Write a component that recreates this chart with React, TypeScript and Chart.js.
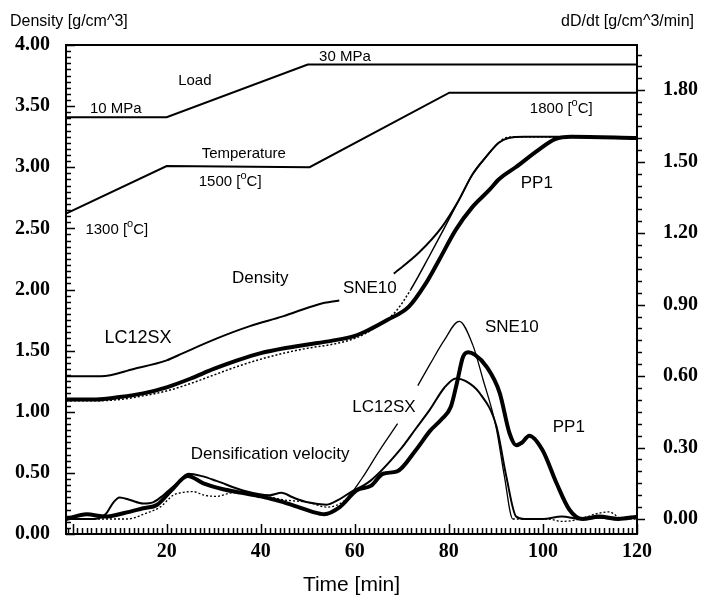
import React, { useEffect, useRef } from "react";
import { Chart, registerables } from "chart.js";
Chart.register(...registerables);

// ---------- axis settings ----------
const X_MIN = -1.4;
const X_MAX = 120;
const X_TICKS = [20, 40, 60, 80, 100, 120];
const LEFT_TICKS = [0, 0.5, 1, 1.5, 2, 2.5, 3, 3.5, 4];
const RIGHT_TICKS = [0, 0.3, 0.6, 0.9, 1.2, 1.5, 1.8];
const RIGHT_MIN = -0.063;
const RIGHT_MAX = 1.99;

// ---------- process conditions (left axis units) ----------
const LOAD_TIME = [-1.4, 20, 50, 120];
const LOAD = [3.41, 3.41, 3.84, 3.84];
const TEMP_TIME = [-1.4, 20, 50.4, 80.1, 120];
const TEMP = [2.62, 3.01, 3.0, 3.61, 3.61];

// ---------- density [g/cm^3] ----------
const DEN_LC_TIME = [-1.4, 6, 13, 20, 23.5, 30.7, 37.7, 44.7, 52.4, 56.7, 62, 68.3, 73.6, 78.5, 82.1, 85, 87.8, 90.6, 92.7, 96, 105, 120];
const DEN_LC = [1.29, 1.29, 1.35, 1.42, 1.48, 1.6, 1.7, 1.78, 1.88, 1.91, null, 2.13, 2.3, 2.51, 2.73, 2.94, 3.08, 3.2, 3.24, 3.25, 3.25, 3.24];

const DEN_SNE_TIME = [-1.4, 5, 10, 15, 20, 25, 30, 35, 40, 45, 50, 55, 60, 64, 68.7, 71.9, 75.8, 79, 82, 85, 87.8, 90.6, 92, 95, 100, 104];
const DEN_SNE = [1.09, 1.09, 1.1, 1.13, 1.17, 1.23, 1.3, 1.37, 1.43, 1.48, 1.52, 1.55, 1.6, 1.68, 1.82, 2.0, 2.27, 2.5, 2.72, 2.94, 3.08, 3.2, 3.24, 3.25, 3.25, 3.24];

const DEN_PP_TIME = [-1.4, 5, 10, 15, 20, 25, 30, 35, 40, 45, 50, 55, 60, 63, 66.9, 71.5, 75.1, 77.9, 81.5, 84.9, 88.5, 90.6, 94.2, 99, 102.6, 106, 120];
const DEN_PP = [1.1, 1.1, 1.12, 1.15, 1.2, 1.27, 1.35, 1.42, 1.48, 1.52, 1.55, 1.58, 1.62, 1.67, 1.75, 1.86, 2.05, 2.24, 2.49, 2.67, 2.81, 2.9, 3.0, 3.14, 3.23, 3.25, 3.24];

// ---------- densification velocity dD/dt [g/cm^3/min] (right axis) ----------
const VEL_LC_TIME = [-1.4, 4.4, 7, 8.7, 10, 12.2, 15, 17.1, 19.3, 22.2, 24.6, 27.5, 30.6, 36.2, 41.9, 44.4, 46.9, 50, 54, 56.5, 58.9, 63.3, 69.6, 73, 76, 79, 81.5, 83.5, 86.5, 90.1, 92.2, 94.3, 96, 100, 104, 108, 112, 116, 120];
const VEL_LC = [0.0, 0.0, 0.02, 0.07, 0.09, 0.08, 0.065, 0.07, 0.1, 0.15, 0.19, 0.18, 0.16, 0.12, 0.1, 0.11, 0.09, 0.07, 0.06, 0.08, 0.11, 0.16, 0.29, 0.38, 0.46, 0.55, 0.59, 0.58, 0.53, 0.39, 0.18, 0.01, 0.0, 0.0, 0.01, 0.0, 0.005, 0.0, 0.01];

const VEL_SNE_TIME = [-1.4, 4, 8, 11.6, 15.7, 18.6, 21.4, 23, 25.6, 28, 30.6, 34.1, 40, 45, 50, 54, 58, 61.5, 65, 69.1, 71.3, 73.4, 76, 79, 82.2, 85.1, 87.2, 90, 91.8, 93.6, 97, 101, 104, 108, 111, 114, 117, 120];
const VEL_SNE = [0.0, 0.0, 0.0, 0.0, 0.025, 0.05, 0.1, 0.11, 0.115, 0.1, 0.095, 0.11, 0.1, 0.08, 0.07, 0.05, 0.08, 0.17, 0.28, 0.4, null, 0.56, 0.65, 0.75, 0.83, 0.73, 0.59, 0.39, 0.18, 0.0, 0.0, 0.0, -0.01, 0.0, 0.02, 0.03, 0.0, 0.0];

const VEL_PP_TIME = [-1.4, 3, 7, 11, 15, 18, 21, 24.5, 27.8, 32, 36, 40, 44, 48, 51, 53.5, 56.8, 60.4, 63.5, 66, 69, 73, 76, 78.5, 80.4, 81.7, 83, 84.1, 85.5, 88, 90.8, 92.9, 94.3, 95.5, 97.1, 99.9, 102.9, 105.6, 108.4, 112, 116, 120];
const VEL_PP = [0.0, 0.02, 0.01, 0.025, 0.045, 0.06, 0.12, 0.18, 0.15, 0.125, 0.11, 0.095, 0.075, 0.05, 0.03, 0.02, 0.05, 0.12, 0.14, 0.19, 0.2, 0.29, 0.37, 0.42, 0.47, 0.57, 0.68, 0.7, 0.69, 0.64, 0.53, 0.36, 0.31, 0.32, 0.35, 0.29, 0.15, 0.04, 0.0, 0.01, 0.0, 0.01];

// ---------- annotations (time, left-axis value) ----------
const LABEL_TEXT = ["Load", "10 MPa", "30 MPa", "Temperature", "1500 [^oC]", "1300 [^oC]", "1800 [^oC]", "Density", "LC12SX", "SNE10", "PP1", "Densification velocity", "LC12SX", "SNE10", "PP1"];
const LABEL_TIME = [26.0, 9.2, 57.9, 36.4, 33.5, 9.4, 103.9, 39.9, 13.9, 63.2, 98.7, 42.0, 66.2, 93.4, 105.5];
const LABEL_VALUE = [3.71, 3.48, 3.9, 3.11, 2.88, 2.49, 3.48, 2.09, 1.6, 2.01, 2.87, 0.65, 1.04, 1.69, 0.87];
const LABEL_SIZE = [15, 15, 15, 15, 15, 15, 15, 17, 18, 17, 17, 17, 17, 17, 17];

const SANS = "'Liberation Sans', Arial, sans-serif";
const SERIF = "'Liberation Serif', 'Times New Roman', serif";

const pts = (t: number[], v: (number | null)[]) => t.map((x, i) => ({ x, y: v[i] }));

function drawRich(ctx: CanvasRenderingContext2D, text: string, cx: number, cy: number, size: number) {
  const parts: { s: string; sup: boolean }[] = [];
  let buf = "";
  for (let k = 0; k < text.length; k++) {
    if (text[k] === "^") {
      if (buf) parts.push({ s: buf, sup: false });
      buf = "";
      parts.push({ s: text[k + 1], sup: true });
      k++;
    } else buf += text[k];
  }
  if (buf) parts.push({ s: buf, sup: false });
  const fontFor = (sup: boolean) => `${sup ? Math.round(size * 0.72) : size}px ${SANS}`;
  const widths = parts.map((p) => {
    ctx.font = fontFor(p.sup);
    return ctx.measureText(p.s).width;
  });
  const total = widths.reduce((a, b) => a + b, 0);
  let x = cx - total / 2;
  ctx.textAlign = "left";
  ctx.textBaseline = "middle";
  parts.forEach((p, j) => {
    ctx.font = fontFor(p.sup);
    ctx.fillText(p.s, x, p.sup ? cy - size * 0.38 : cy);
    x += widths[j];
  });
}

const decorPlugin = {
  id: "decor",
  afterDraw(chart: any) {
    const ctx: CanvasRenderingContext2D = chart.ctx;
    const { left, right, top, bottom } = chart.chartArea;
    const xs = chart.scales.x;
    const yl = chart.scales.y;
    const yr = chart.scales.y2;
    ctx.save();
    ctx.strokeStyle = "#000";
    ctx.fillStyle = "#000";
    ctx.lineWidth = 2;
    ctx.strokeRect(left, top, right - left, bottom - top);

    ctx.lineWidth = 1.5;
    ctx.beginPath();
    // bottom ticks (inward)
    for (let t = Math.ceil(X_MIN); t <= X_MAX; t++) {
      const px = Math.round(xs.getPixelForValue(t)) + 0.5;
      const len = t % 20 === 0 ? 10 : 6;
      ctx.moveTo(px, bottom);
      ctx.lineTo(px, bottom - len);
    }
    // left ticks (inward)
    for (let i = 0; i <= 80; i++) {
      const py = Math.round(yl.getPixelForValue(i * 0.05)) + 0.5;
      const len = i % 10 === 0 ? 9 : 5;
      ctx.moveTo(left, py);
      ctx.lineTo(left + len, py);
    }
    // right ticks (outward)
    for (let i = 0; i * 0.05 <= RIGHT_MAX; i++) {
      const py = Math.round(yr.getPixelForValue(i * 0.05)) + 0.5;
      const len = i % 6 === 0 ? 8 : 5;
      ctx.moveTo(right, py);
      ctx.lineTo(right + len, py);
    }
    ctx.stroke();

    // annotations
    LABEL_TEXT.forEach((txt, i) => {
      drawRich(ctx, txt, xs.getPixelForValue(LABEL_TIME[i]), yl.getPixelForValue(LABEL_VALUE[i]), LABEL_SIZE[i]);
    });

    // axis titles
    ctx.font = `16px ${SANS}`;
    ctx.textBaseline = "middle";
    ctx.textAlign = "left";
    ctx.fillText("Density [g/cm^3]", 10, 22);
    ctx.textAlign = "right";
    ctx.fillText("dD/dt [g/cm^3/min]", 694, 22);
    ctx.textAlign = "center";
    ctx.font = `21px ${SANS}`;
    ctx.fillText("Time [min]", (left + right) / 2, 585);
    ctx.restore();
  },
};

export default function App() {
  const ref = useRef<HTMLCanvasElement>(null);
  useEffect(() => {
    if (!ref.current) return;
    const tickFont = { family: SERIF, weight: "bold" as const, size: 20 };
    const line = (data: any[], width: number, axis: string, extra: any = {}) => ({
      data,
      borderColor: "#000",
      backgroundColor: "#000",
      borderWidth: width,
      pointRadius: 0,
      fill: false,
      yAxisID: axis,
      spanGaps: false,
      ...extra,
    });
    const smooth = { cubicInterpolationMode: "monotone" };
    const chart = new Chart(ref.current, {
      type: "line",
      data: {
        datasets: [
          line(pts(LOAD_TIME, LOAD), 2, "y", { tension: 0 }),
          line(pts(TEMP_TIME, TEMP), 2, "y", { tension: 0 }),
          line(pts(DEN_LC_TIME, DEN_LC), 2, "y", smooth),
          line(pts(DEN_SNE_TIME, DEN_SNE), 1.5, "y", {
            ...smooth,
            segment: {
              borderDash: (c: any) => (c.p1.parsed.x <= 71.9 || c.p0.parsed.x >= 90.6 ? [2, 2] : undefined),
            },
          }),
          line(pts(DEN_PP_TIME, DEN_PP), 4, "y", smooth),
          line(pts(VEL_LC_TIME, VEL_LC), 2, "y2", smooth),
          line(pts(VEL_SNE_TIME, VEL_SNE), 1.3, "y2", {
            ...smooth,
            segment: {
              borderDash: (c: any) => (c.p1.parsed.x <= 58 || c.p0.parsed.x >= 93.6 ? [2, 2] : undefined),
            },
          }),
          line(pts(VEL_PP_TIME, VEL_PP), 4, "y2", smooth),
        ],
      },
      options: {
        animation: false,
        responsive: false,
        devicePixelRatio: 1,
        layout: { padding: { top: 45, left: 0, right: 0, bottom: 0 } },
        plugins: { legend: { display: false }, tooltip: { enabled: false } },
        scales: {
          x: {
            type: "linear",
            position: "bottom",
            min: X_MIN,
            max: X_MAX,
            grid: { display: false, drawTicks: false },
            border: { display: false },
            afterBuildTicks: (s: any) => {
              s.ticks = X_TICKS.map((value) => ({ value }));
            },
            afterFit: (s: any) => {
              s.height = 65;
            },
            ticks: {
              autoSkip: false,
              maxRotation: 0,
              padding: 6,
              color: "#000",
              font: tickFont,
              callback: (v: any) => String(v),
            },
          },
          y: {
            type: "linear",
            position: "left",
            min: 0,
            max: 4,
            grid: { display: false, drawTicks: false },
            border: { display: false },
            afterBuildTicks: (s: any) => {
              s.ticks = LEFT_TICKS.map((value) => ({ value }));
            },
            afterFit: (s: any) => {
              s.width = 66;
            },
            ticks: {
              autoSkip: false,
              padding: 16,
              color: "#000",
              font: tickFont,
              callback: (v: any) => Number(v).toFixed(2),
            },
          },
          y2: {
            type: "linear",
            position: "right",
            min: RIGHT_MIN,
            max: RIGHT_MAX,
            grid: { display: false, drawTicks: false },
            border: { display: false },
            afterBuildTicks: (s: any) => {
              s.ticks = RIGHT_TICKS.map((value) => ({ value }));
            },
            afterFit: (s: any) => {
              s.width = 64;
            },
            ticks: {
              autoSkip: false,
              padding: 26,
              color: "#000",
              font: tickFont,
              callback: (v: any) => Number(v).toFixed(2),
            },
          },
        },
      },
      plugins: [decorPlugin],
    } as any);
    return () => chart.destroy();
  }, []);
  return (
    <div style={{ position: "fixed", left: 0, top: 0, width: 701, height: 599, background: "#fff" }}>
      <canvas ref={ref} width={701} height={599} style={{ display: "block" }} />
    </div>
  );
}
